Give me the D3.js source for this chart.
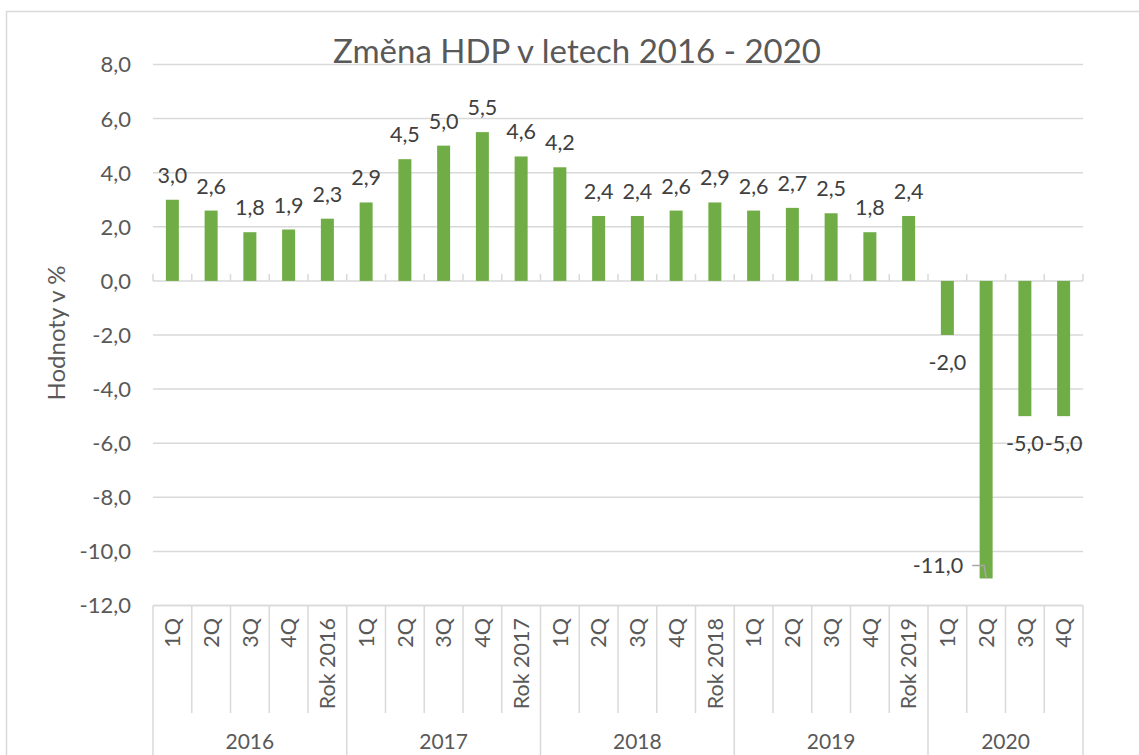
<!DOCTYPE html>
<html><head><meta charset="utf-8">
<script src="https://cdn.jsdelivr.net/npm/d3@7"></script>
<style>
html,body{margin:0;padding:0;background:#fff;}
svg{display:block;font-family:Lato,"Noto Sans",sans-serif;}
</style></head>
<body>
<svg id="c" width="1139" height="755"></svg>
<script>
const title = "Změna HDP v letech 2016 - 2020";
const yTitle = "Hodnoty v %";
const years = ["2016","2017","2018","2019","2020"];
const periods = [
  ["1Q","2Q","3Q","4Q","Rok 2016"],
  ["1Q","2Q","3Q","4Q","Rok 2017"],
  ["1Q","2Q","3Q","4Q","Rok 2018"],
  ["1Q","2Q","3Q","4Q","Rok 2019"],
  ["1Q","2Q","3Q","4Q"]
];
const values = [3.0,2.6,1.8,1.9,2.3, 2.9,4.5,5.0,5.5,4.6, 4.2,2.4,2.4,2.6,2.9, 2.6,2.7,2.5,1.8,2.4, -2.0,-11.0,-5.0,-5.0];
const yTicks = [8,6,4,2,0,-2,-4,-6,-8,-10,-12];

const cats = [];
years.forEach((yr,gi)=>periods[gi].forEach(p=>cats.push({year:yr,label:p,key:yr+"|"+p})));
cats.forEach((c,i)=>c.value=values[i]);

const svg = d3.select("#c");
const L=153, R=1083, T=64.5, B=605.5;
const x = d3.scaleBand().domain(cats.map(c=>c.key)).range([L,R]).paddingInner(0).paddingOuter(0);
const y = d3.scaleLinear().domain([-12,8]).range([B,T]);
const fmt = v => d3.format(".1f")(v).replace(".",",").replace("−","-");
const grid="#d9d9d9", txt="#595959", lbl="#404040";

// frame
svg.append("rect").attr("x",6.5).attr("y",11.5).attr("width",1200).attr("height",800)
  .attr("fill","none").attr("stroke",grid).attr("stroke-width",1.5);

// title
svg.append("text").attr("x",577).attr("y",63).attr("text-anchor","middle")
  .attr("font-size",33).attr("fill",txt).text(title);

// gridlines
svg.append("g").selectAll("line").data(yTicks).join("line")
  .attr("x1",L).attr("x2",R).attr("y1",d=>y(d)).attr("y2",d=>y(d))
  .attr("stroke",grid).attr("stroke-width",1.5);

// y tick labels
svg.append("g").selectAll("text").data(yTicks).join("text")
  .attr("x",131).attr("y",d=>y(d)).attr("dy","0.36em").attr("text-anchor","end")
  .attr("font-size",22).attr("fill",txt).text(d=>fmt(d));

// y title
svg.append("text").attr("transform","translate(65,333) rotate(-90)")
  .attr("text-anchor","middle").attr("font-size",24).attr("fill",txt).text(yTitle);

// bars
const bw = 13;
svg.append("g").selectAll("rect").data(cats).join("rect")
  .attr("x",d=>x(d.key)+x.bandwidth()/2-bw/2).attr("width",bw)
  .attr("y",d=>Math.min(y(d.value),y(0))).attr("height",d=>Math.abs(y(d.value)-y(0)))
  .attr("fill","#70ad47");

// zero axis ticks
const bounds = cats.map(c=>x(c.key)).concat([R]);
svg.append("g").selectAll("line").data(bounds).join("line")
  .attr("x1",d=>d).attr("x2",d=>d).attr("y1",y(0)-7).attr("y2",y(0))
  .attr("stroke",grid).attr("stroke-width",1.5);

// data labels
const lg = svg.append("g");
cats.forEach(c=>{
  const cx = x(c.key)+x.bandwidth()/2;
  if(c.value>=0){
    lg.append("text").attr("x",cx).attr("y",y(c.value)-17).attr("text-anchor","middle")
      .attr("font-size",21.5).attr("fill",lbl).text(fmt(c.value));
  } else if (y(c.value)+35 > B) {
    const yv = y(c.value);
    lg.append("text").attr("x",cx-23).attr("y",yv-5).attr("text-anchor","end")
      .attr("font-size",21.5).attr("fill",lbl).text(fmt(c.value));
    lg.append("path").attr("d",`M${cx-14},${yv-13}H${cx-2}L${cx},${yv}`)
      .attr("fill","none").attr("stroke","#a6a6a6").attr("stroke-width",1.5);
  } else {
    lg.append("text").attr("x",cx).attr("y",y(c.value)+35).attr("text-anchor","middle")
      .attr("font-size",21.5).attr("fill",lbl).text(fmt(c.value));
  }
});

// category axis
const ax = svg.append("g");
ax.append("line").attr("x1",L).attr("x2",R).attr("y1",B).attr("y2",B).attr("stroke",grid).attr("stroke-width",1.5);
let idx=0;
const groupBounds=[L];
years.forEach((yr,gi)=>{
  const n = periods[gi].length;
  const start = x(cats[idx].key);
  const end = start + n*x.bandwidth();
  groupBounds.push(end);
  for(let k=1;k<n;k++){
    const bx = start + k*x.bandwidth();
    ax.append("line").attr("x1",bx).attr("x2",bx).attr("y1",B).attr("y2",713).attr("stroke",grid).attr("stroke-width",1.5);
  }
  ax.append("text").attr("x",(start+end)/2).attr("y",749).attr("text-anchor","middle")
    .attr("font-size",21).attr("fill",txt).text(yr);
  idx+=n;
});
groupBounds.forEach(bx=>ax.append("line").attr("x1",bx).attr("x2",bx).attr("y1",B).attr("y2",760).attr("stroke",grid).attr("stroke-width",1.5));
cats.forEach(c=>{
  const cx = x(c.key)+x.bandwidth()/2;
  ax.append("text").attr("transform",`translate(${cx},618) rotate(-90)`)
    .attr("text-anchor","end").attr("dy","0.36em")
    .attr("font-size",21.5).attr("fill",txt).text(c.label);
});
</script>
</body></html>
